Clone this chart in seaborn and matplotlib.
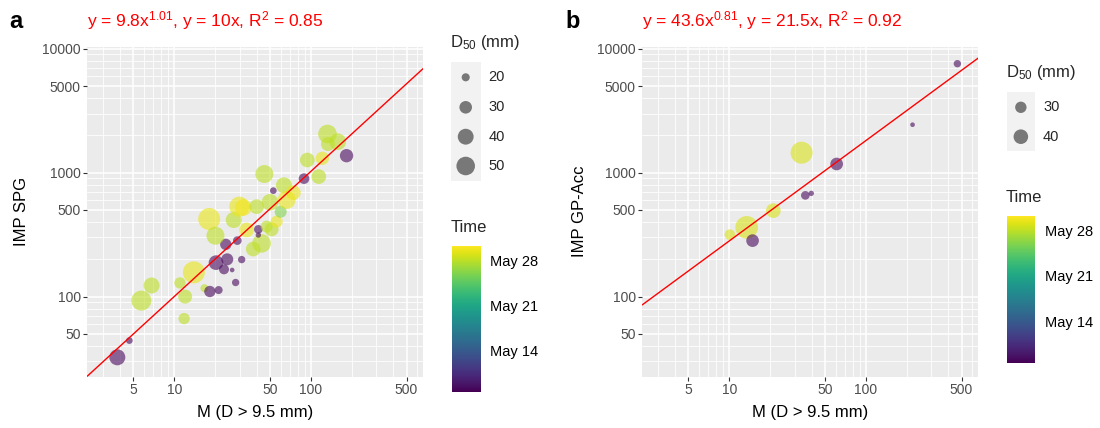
import numpy as np
import pandas as pd
import matplotlib
matplotlib.use("Agg")
import matplotlib.pyplot as plt
import matplotlib.dates as mdates
from matplotlib.ticker import FixedLocator, NullFormatter
import seaborn as sns

# ---------------- data: panel a (SPG) ----------------
a_M = [3.83, 4.69, 5.74, 6.82, 11.0, 12.0, 11.8, 13.9, 16.6, 18.2, 21.1, 20.2,
       23.1, 24.4, 26.5, 28.1, 31.1, 23.8, 28.9, 18.0, 20.0, 27.2, 29.9, 32.0,
       33.8, 40.0, 37.8, 43.5, 41.2, 41.2, 45.6, 53.0, 50.1, 51.5, 47.4, 56.1,
       60.0, 63.4, 66.3, 74.3, 88.9, 94.0, 114, 121, 132, 133, 157, 182]
a_IMP = [32.4, 44.2, 92.9, 123, 129, 100, 66.5, 157, 117, 110, 113, 188,
         166, 200, 164, 130, 199, 264, 283, 423, 310, 415, 532, 523,
         345, 532, 242, 269, 349, 314, 975, 716, 577, 349, 367, 403,
         484, 791, 603, 690, 895, 1265, 929, 1306, 2051, 1702, 1778, 1371]
a_D50 = [40.5, 17.8, 55.9, 40.5, 26.8, 34.0, 26.8, 64.9, 19.9, 26.8, 19.9, 36.1,
         23.7, 28.5, 15.3, 18.8, 18.8, 26.8, 21.0, 64.9, 47.8, 40.5, 55.9, 42.8,
         36.1, 36.1, 36.1, 50.4, 21.0, 16.1, 47.8, 17.8, 42.8, 34.0, 28.5, 28.5,
         28.5, 40.5, 47.8, 36.1, 25.2, 36.1, 36.1, 32.1, 50.4, 34.0, 42.8, 32.1]
a_time = ["2021-05-08 00:00", "2021-05-08 00:00", "2021-05-28 00:00", "2021-05-28 00:00",
          "2021-05-28 00:00", "2021-05-28 00:00", "2021-05-28 00:00", "2021-05-29 12:00",
          "2021-05-28 00:00", "2021-05-08 00:00", "2021-05-08 00:00", "2021-05-08 00:00",
          "2021-05-08 00:00", "2021-05-08 00:00", "2021-05-08 00:00", "2021-05-08 00:00",
          "2021-05-08 00:00", "2021-05-08 00:00", "2021-05-08 00:00", "2021-05-29 12:00",
          "2021-05-28 00:00", "2021-05-28 00:00", "2021-05-29 12:00", "2021-05-29 18:00",
          "2021-05-29 12:00", "2021-05-28 00:00", "2021-05-28 00:00", "2021-05-28 00:00",
          "2021-05-08 00:00", "2021-05-08 00:00", "2021-05-28 00:00", "2021-05-08 00:00",
          "2021-05-28 00:00", "2021-05-28 00:00", "2021-05-28 00:00", "2021-05-29 12:00",
          "2021-05-26 00:00", "2021-05-28 00:00", "2021-05-29 12:00", "2021-05-29 12:00",
          "2021-05-08 00:00", "2021-05-28 00:00", "2021-05-28 00:00", "2021-05-29 12:00",
          "2021-05-28 00:00", "2021-05-28 00:00", "2021-05-28 00:00", "2021-05-08 00:00"]
a_fit = (9.8, 1.01)
a_title = r"y = 9.8x$^{1.01}$, y = 10x, R$^{2}$ = 0.85"
a_size_breaks = [20, 30, 40, 50]

# ---------------- data: panel b (GP-Acc) ----------------
b_M = [466, 219, 33.8, 61.0, 36.0, 39.8, 21.0, 13.4, 10.1, 14.8]
b_IMP = [7570, 2437, 1449, 1175, 656, 681, 494, 362, 316, 283]
b_D50 = [20.9, 17.0, 72.6, 33.7, 23.4, 17.8, 40.3, 76.2, 28.1, 33.7]
b_time = ["2021-05-08 00:00", "2021-05-08 00:00", "2021-05-29 00:00", "2021-05-08 00:00",
          "2021-05-08 00:00", "2021-05-08 00:00", "2021-05-29 00:00", "2021-05-29 00:00",
          "2021-05-29 00:00", "2021-05-08 00:00"]
b_fit = (43.6, 0.81)
b_title = r"y = 43.6x$^{0.81}$, y = 21.5x, R$^{2}$ = 0.92"
b_size_breaks = [30, 40]

time_ticks = ["2021-05-14 00:00", "2021-05-21 00:00", "2021-05-28 00:00"]
time_tick_labels = ["May 14", "May 21", "May 28"]
time_limits = ["2021-05-07 15:00", "2021-05-30 06:00"]

x_ticks = [5, 10, 50, 100, 500]
y_ticks = [50, 100, 500, 1000, 5000, 10000]
XLIM = (2.31, 663)
YLIM = (22.6, 10380)

# ---------------- style ----------------
sns.set_theme(style="darkgrid")
plt.rcParams["font.family"] = ["Liberation Sans", "DejaVu Sans"]
plt.rcParams["mathtext.default"] = "regular"

W, H = 1100, 428
fig = plt.figure(figsize=(W / 100, H / 100), dpi=100)
fig.patch.set_facecolor("white")


def to_num(strings):
    return mdates.date2num(pd.to_datetime(strings, format="%Y-%m-%d %H:%M"))


def fx(px):
    return px / W


def fy(py):
    return 1 - py / H


def rect(x0, y0, x1, y1):
    return [fx(x0), fy(y1), fx(x1) - fx(x0), fy(y0) - fy(y1)]


t0, t1 = to_num(time_limits)
tnorm = matplotlib.colors.Normalize(t0, t1)

# size mapping (area in pt^2 linear in D50), per panel
a_slope, a_off = 4.83, 13.0
b_slope, b_off = 4.31, 14.4


def area(D, slope, off):
    return slope * (np.asarray(D, dtype=float) - off)


def draw_panel(x0, x1, M, IMP, D50, times, fit, title, tag, ylabel, slope, off, tag_x, ylab_x):
    ax = fig.add_axes(rect(x0, 46.7, x1, 376.7))
    df = pd.DataFrame({"M": M, "IMP": IMP, "D50": D50, "Time": to_num(times)})
    lo, hi = 14.0, 80.0
    sns.scatterplot(data=df, x="M", y="IMP", hue="Time", size="D50",
                    palette="viridis", hue_norm=tnorm,
                    sizes=(float(area(lo, slope, off)), float(area(hi, slope, off))),
                    size_norm=(lo, hi), alpha=0.6, linewidth=0, legend=False,
                    ax=ax, zorder=3)
    ax.set_xscale("log")
    ax.set_yscale("log")
    ax.set_xlim(*XLIM)
    ax.set_ylim(*YLIM)
    xl = np.geomspace(XLIM[0], XLIM[1], 200)
    ax.plot(xl, fit[0] * xl ** fit[1], color="red", lw=1.0, zorder=4)

    ax.set_facecolor("#EBEBEB")
    for s in ax.spines.values():
        s.set_visible(False)
    ax.xaxis.set_major_locator(FixedLocator(x_ticks))
    ax.yaxis.set_major_locator(FixedLocator(y_ticks))
    ax.set_xticklabels([str(v) for v in x_ticks])
    ax.set_yticklabels([str(v) for v in y_ticks])
    xmin = [k * 10 ** n for n in range(0, 3) for k in range(1, 10)]
    ymin = [k * 10 ** n for n in range(1, 5) for k in range(1, 10)]
    ax.xaxis.set_minor_locator(FixedLocator([v for v in xmin if v not in x_ticks]))
    ax.yaxis.set_minor_locator(FixedLocator([v for v in ymin if v not in y_ticks]))
    ax.xaxis.set_minor_formatter(NullFormatter())
    ax.yaxis.set_minor_formatter(NullFormatter())
    ax.grid(which="major", color="white", lw=1.1)
    ax.grid(which="minor", color="white", lw=0.6)
    ax.set_axisbelow(True)
    ax.tick_params(which="major", bottom=True, left=True, length=2.7, width=0.8,
                   color="#333333", labelcolor="#4D4D4D", labelsize=10, pad=2)
    ax.tick_params(which="minor", bottom=False, left=False, length=0)
    ax.set_xlabel("")
    ax.set_ylabel("")

    fig.text(fx((x0 + x1) / 2), fy(413), "M (D > 9.5 mm)", ha="center", va="center",
             fontsize=12, color="black")
    fig.text(fx(ylab_x), fy(211.7), ylabel, ha="center", va="center",
             rotation=90, fontsize=12, color="black")
    fig.text(fx(x0), fy(21), title, ha="left", va="center", fontsize=12.5, color="red")
    fig.text(fx(tag_x), fy(21), tag, ha="center", va="center", fontsize=17,
             fontweight="bold", color="black")
    return ax


def size_legend(lx0, lx1, ly0, title_y, breaks, ys, slope, off):
    fig.text(fx(lx0 - 1), fy(title_y), r"D$_{50}$ (mm)", ha="left", va="center", fontsize=12)
    step = ys[1] - ys[0]
    y_bot = ys[-1] + step / 2
    lax = fig.add_axes(rect(lx0, ly0, lx1, y_bot))
    lax.set_facecolor("#F2F2F2")
    for s in lax.spines.values():
        s.set_visible(False)
    lax.set_xticks([])
    lax.set_yticks([])
    lax.grid(False)
    lax.set_xlim(0, 1)
    lax.set_ylim(y_bot, ly0)
    lax.scatter([0.5] * len(breaks), ys, s=area(breaks, slope, off), color="black",
                alpha=0.5, linewidth=0)
    for b, yy in zip(breaks, ys):
        fig.text(fx(lx1 + 8), fy(yy), str(b), ha="left", va="center", fontsize=10.5)


def time_legend(cx0, cx1, cy0, cy1, title_y):
    fig.text(fx(cx0 - 1), fy(title_y), "Time", ha="left", va="center", fontsize=12)
    cax = fig.add_axes(rect(cx0, cy0, cx1, cy1))
    sm = matplotlib.cm.ScalarMappable(norm=tnorm, cmap="viridis")
    cb = fig.colorbar(sm, cax=cax)
    cb.outline.set_visible(False)
    cb.set_ticks(to_num(time_ticks))
    cb.set_ticklabels(time_tick_labels)
    cax.tick_params(axis="y", which="both", direction="in", length=5, width=0.6,
                    color="white", left=True, right=True, labelsize=10.5, pad=7,
                    labelcolor="black")
    cax.minorticks_off()


draw_panel(87.3, 423.3, a_M, a_IMP, a_D50, a_time, a_fit, a_title, "a",
           "IMP SPG", a_slope, a_off, tag_x=16, ylab_x=22)
draw_panel(642.3, 978.3, b_M, b_IMP, b_D50, b_time, b_fit, b_title, "b",
           "IMP GP-Acc", b_slope, b_off, tag_x=573, ylab_x=580)

size_legend(450.7, 480.7, 61.7, 42, a_size_breaks, [77.3, 107.3, 136.7, 166.0], a_slope, a_off)
time_legend(451.7, 480.7, 245.7, 391.7, 228)
size_legend(1006.7, 1035.0, 91.7, 73, b_size_breaks, [107.3, 136.7], b_slope, b_off)
time_legend(1006.7, 1035.0, 216.0, 362.7, 198)

fig.savefig("out.png", dpi=100, facecolor="white")
